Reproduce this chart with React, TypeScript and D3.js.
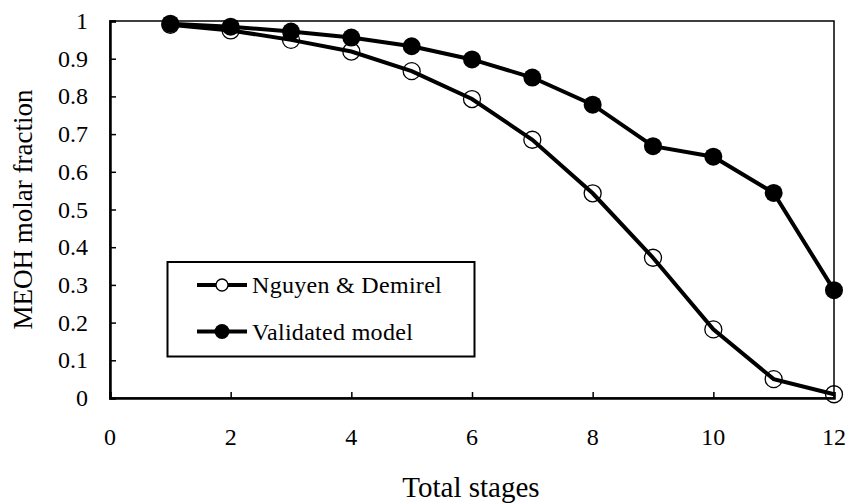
import React, { useEffect, useRef } from 'react';
import * as d3 from 'd3';

const stages = [1, 2, 3, 4, 5, 6, 7, 8, 9, 10, 11, 12];
const nguyenDemirel = [0.99, 0.975, 0.95, 0.919, 0.867, 0.793, 0.685, 0.543, 0.372, 0.182, 0.05, 0.01];
const validatedModel = [0.993, 0.985, 0.972, 0.956, 0.933, 0.898, 0.85, 0.778, 0.668, 0.64, 0.544, 0.286];
const xTicks = [0, 2, 4, 6, 8, 10, 12];
const yTicks = [0, 0.1, 0.2, 0.3, 0.4, 0.5, 0.6, 0.7, 0.8, 0.9, 1];
const seriesNames = ['Nguyen & Demirel', 'Validated model'];

const FONT = 'Liberation Serif, Times New Roman, serif';

export default function App() {
  const svgRef = useRef<SVGSVGElement>(null);

  useEffect(() => {
    const svg = d3.select(svgRef.current);
    svg.selectAll('*').remove();

    const left = 110, right = 834, top = 21, bottom = 398;

    const x = d3.scaleLinear().domain([0, 12]).range([left, right]);
    const y = d3.scaleLinear().domain([0, 1]).range([bottom, top]);

    // frame
    svg.append('rect')
      .attr('x', left).attr('y', top)
      .attr('width', right - left).attr('height', bottom - top)
      .attr('fill', 'none').attr('stroke', '#000').attr('stroke-width', 1.5);

    // axes, ticks pointing inward
    const xAxis = svg.append('g')
      .attr('transform', `translate(0,${bottom})`)
      .call(d3.axisTop(x).tickValues(xTicks).tickSize(6).tickFormat(() => ''));
    xAxis.select('.domain').attr('stroke-width', 2.5);
    xAxis.selectAll('.tick line').attr('stroke-width', 1.5);

    const yAxis = svg.append('g')
      .attr('transform', `translate(${left},0)`)
      .call(d3.axisRight(y).tickValues(yTicks).tickSize(6).tickFormat(() => ''));
    yAxis.select('.domain').attr('stroke-width', 2.5);
    yAxis.selectAll('.tick line').attr('stroke-width', 1.5);

    // tick labels
    svg.append('g').selectAll('text')
      .data(xTicks).enter().append('text')
      .attr('x', d => x(d)).attr('y', 445)
      .attr('text-anchor', 'middle')
      .attr('font-family', FONT).attr('font-size', 24)
      .text(d => d);

    svg.append('g').selectAll('text')
      .data(yTicks).enter().append('text')
      .attr('x', 88).attr('y', d => y(d) + 8)
      .attr('text-anchor', 'end')
      .attr('font-family', FONT).attr('font-size', 24)
      .text(d => d3.format('~g')(d));

    // axis titles
    svg.append('text')
      .attr('x', (left + right) / 2 - 1).attr('y', 497)
      .attr('text-anchor', 'middle')
      .attr('font-family', FONT).attr('font-size', 29)
      .text('Total stages');

    svg.append('text')
      .attr('transform', `translate(32,${(top + bottom) / 2}) rotate(-90)`)
      .attr('text-anchor', 'middle')
      .attr('font-family', FONT).attr('font-size', 27)
      .text('MEOH molar fraction');

    const line = d3.line<number>()
      .x((_, i) => x(stages[i]))
      .y(d => y(d));

    // Nguyen & Demirel
    svg.append('path')
      .datum(nguyenDemirel)
      .attr('d', line)
      .attr('fill', 'none').attr('stroke', '#000').attr('stroke-width', 4);
    svg.append('g').selectAll('circle')
      .data(nguyenDemirel).enter().append('circle')
      .attr('cx', (_, i) => x(stages[i])).attr('cy', d => y(d))
      .attr('r', 8.5)
      .attr('fill', 'none').attr('stroke', '#000').attr('stroke-width', 1.3);

    // Validated model
    svg.append('path')
      .datum(validatedModel)
      .attr('d', line)
      .attr('fill', 'none').attr('stroke', '#000').attr('stroke-width', 4);
    svg.append('g').selectAll('circle')
      .data(validatedModel).enter().append('circle')
      .attr('cx', (_, i) => x(stages[i])).attr('cy', d => y(d))
      .attr('r', 9)
      .attr('fill', '#000');

    // legend
    const lg = svg.append('g');
    lg.append('rect')
      .attr('x', 167.5).attr('y', 262)
      .attr('width', 307).attr('height', 94.5)
      .attr('fill', '#fff').attr('stroke', '#000').attr('stroke-width', 2);

    seriesNames.forEach((name, i) => {
      const cy = i === 0 ? 285 : 331.5;
      lg.append('line')
        .attr('x1', 197).attr('x2', 247).attr('y1', cy).attr('y2', cy)
        .attr('stroke', '#000').attr('stroke-width', 4);
      if (i === 0) {
        lg.append('circle').attr('cx', 222).attr('cy', cy).attr('r', 6)
          .attr('fill', '#fff').attr('stroke', '#000').attr('stroke-width', 1.3);
      } else {
        lg.append('circle').attr('cx', 222).attr('cy', cy).attr('r', 7.5)
          .attr('fill', '#000');
      }
      lg.append('text')
        .attr('x', 252).attr('y', cy + 8)
        .attr('font-family', FONT).attr('font-size', 24)
        .attr('letter-spacing', 0.3)
        .text(name);
    });
  }, []);

  return (
    <svg ref={svgRef} width={848} height={504}
      style={{ position: 'absolute', left: 0, top: 0, background: '#fff' }} />
  );
}
